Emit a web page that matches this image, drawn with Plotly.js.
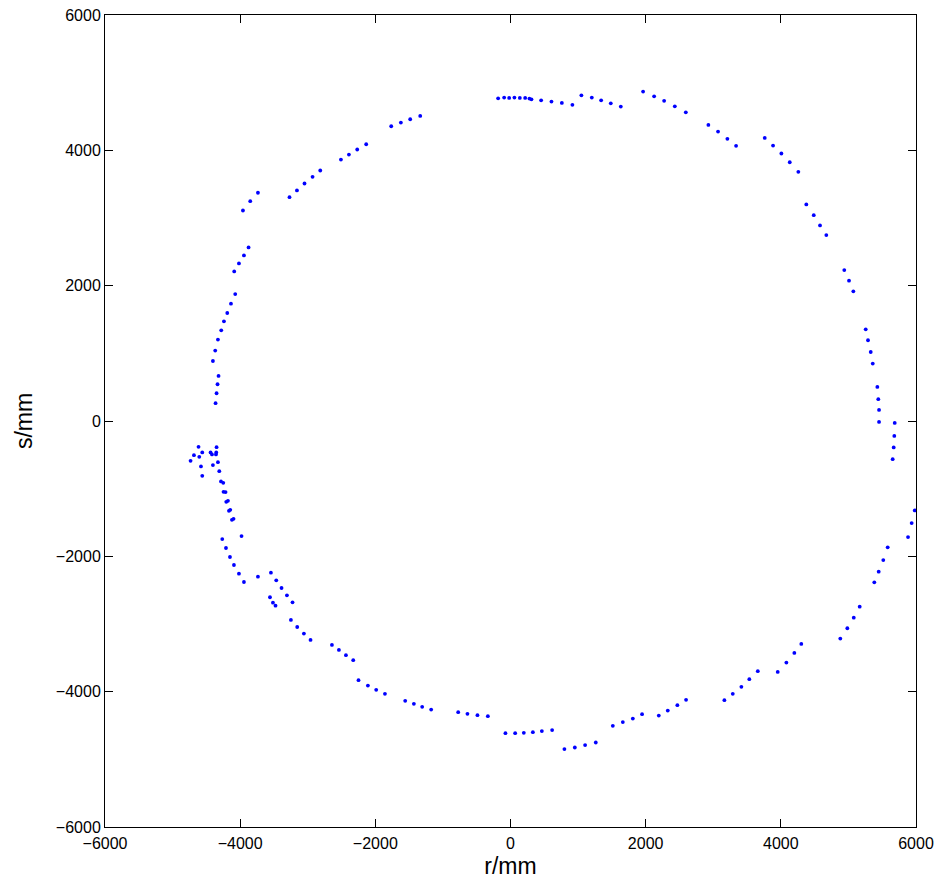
<!DOCTYPE html>
<html>
<head>
<meta charset="utf-8">
<script src="https://cdn.plot.ly/plotly-3.0.1.min.js"></script>
<style>html,body{margin:0;padding:0;background:#fff;}#chart{width:941px;height:882px;}</style>
</head>
<body>
<div id="chart"></div>
<script>
const rValues = [
  -183, -94, -20, 58, 138, 217, 280, 310, 453, 606, 760, 916,
  1049, 1203, 1341, 1484, 1632,
  1962, 2125, 2273, 2431, 2594,
  2928, 3071, 3209, 3338,
  3762, 3885, 4008, 4132, 4259,
  4377, 4487, 4580, 4673,
  4939, 5009, 5073,
  5256, 5290, 5330, 5360,
  5428, 5442, 5453, 5453,
  5685, 5679, 5670, 5655,
  5981, 5936, 5882,
  5581, 5516, 5448, 5383,
  5167, 5079, 4984, 4880,
  4303, 4200, 4082, 3954,
  3659, 3534, 3416, 3289, 3165,
  2598, 2469, 2327, 2194,
  1947, 1810, 1662, 1514,
  1262, 1104, 952, 798,
  616, 464, 331, 197, 69, -75,
  -335, -489, -637, -774,
  -1174, -1307, -1430, -1558,
  -1858, -1987, -2110, -2249,
  -2327, -2435, -2539, -2642,
  -2959, -3057, -3156, -3249,
  -3225, -3308, -3388, -3466, -3545,
  -3477, -3515, -3559, -3737,
  -3944, -4018, -4092, -4151, -4210, -4265, -3980,
  -4098, -4122, -4147, -4166, -4181, -4206, -4216, -4246, -4250, -4284,
  -4309, -4403, -4329, -4561, -4580, -4734, -4684, -4605, -4561, -4616,
  -4438, -4417, -4354, -4358, -4349,
  -4364, -4349, -4335, -4320,
  -4403, -4369, -4329, -4280,
  -4240, -4191, -4136, -4073,
  -4088, -4018, -3944, -3876,
  -3959, -3851, -3737,
  -3270, -3160, -3048, -2929, -2815,
  -2509, -2391, -2268, -2135,
  -1765, -1622, -1484, -1336
];
const sValues = [
  4769, 4779, 4775, 4779, 4775, 4775, 4765, 4754, 4739, 4720, 4701, 4672,
  4813, 4779, 4739, 4695, 4646,
  4868, 4798, 4731, 4651, 4562,
  4376, 4277, 4170, 4066,
  4184, 4071, 3953, 3824, 3683,
  3200, 3042, 2890, 2747,
  2230, 2074, 1916,
  1355, 1193, 1020, 849,
  503, 322, 164, -13,
  -28, -220, -391, -564,
  -1321, -1508, -1715,
  -1867, -2055, -2227, -2384,
  -2744, -2906, -3063, -3216,
  -3294, -3427, -3570, -3708,
  -3697, -3815, -3929, -4032, -4125,
  -4121, -4199, -4279, -4353,
  -4332, -4397, -4450, -4505,
  -4751, -4790, -4825, -4849,
  -4568, -4583, -4598, -4608, -4613, -4613,
  -4362, -4347, -4328, -4303,
  -4264, -4224, -4180, -4136,
  -4032, -3973, -3910, -3830,
  -3535, -3461, -3383, -3309,
  -3235, -3142, -3044, -2940,
  -2679, -2576, -2468, -2354, -2242,
  -2729, -2685, -2605, -2301,
  -2379, -2257, -2128, -2010, -1877, -1745, -1700,
  -1445, -1460, -1312, -1327, -1179, -1194, -1051, -1046, -914, -893,
  -741, -652, -608, -810, -672, -589, -505, -530, -465, -382,
  -465, -494, -465, -494, -387,
  263, 410, 543, 666,
  887, 1041, 1203, 1340,
  1473, 1596, 1734, 1876,
  2211, 2329, 2447, 2565,
  3111, 3249, 3373,
  3308, 3407, 3510, 3609, 3702,
  3864, 3938, 4012, 4090,
  4356, 4410, 4459, 4509
];
const xTicks = [-6000, -4000, -2000, 0, 2000, 4000, 6000];
const yTicks = [-6000, -4000, -2000, 0, 2000, 4000, 6000];
const xLabel = 'r/mm';
const yLabel = 's/mm';

const tickText = v => (v < 0 ? '\u2212' + Math.abs(v) : String(v));

const trace = {
  x: rValues,
  y: sValues,
  type: 'scatter',
  mode: 'markers',
  marker: {color: '#0000ff', size: 3.8, line: {width: 0}},
  hoverinfo: 'skip'
};

const axisCommon = {
  showline: true, mirror: 'ticks', linecolor: '#000', linewidth: 1,
  ticks: 'inside', ticklen: 8, tickwidth: 1, tickcolor: '#000',
  showgrid: false, zeroline: false,
  tickfont: {family: 'Liberation Sans, Arial, sans-serif', size: 16, color: '#000'}
};

const layout = {
  width: 941, height: 882,
  margin: {l: 105, r: 25, t: 15, b: 55, pad: 0},
  paper_bgcolor: '#fff', plot_bgcolor: '#fff',
  showlegend: false,
  xaxis: Object.assign({}, axisCommon, {
    range: [-6000, 6000], tickvals: xTicks, ticktext: xTicks.map(tickText),
    ticklabelstandoff: 2,
    title: {text: xLabel, font: {family: 'Liberation Sans, Arial, sans-serif', size: 23, color: '#000'}, standoff: 6}
  }),
  yaxis: Object.assign({}, axisCommon, {
    range: [-6000, 6000], tickvals: yTicks, ticktext: yTicks.map(tickText),
    title: {text: yLabel, font: {family: 'Liberation Sans, Arial, sans-serif', size: 23, color: '#000'}, standoff: 16}
  })
};

Plotly.newPlot('chart', [trace], layout, {displayModeBar: false, staticPlot: true});
</script>
</body>
</html>
